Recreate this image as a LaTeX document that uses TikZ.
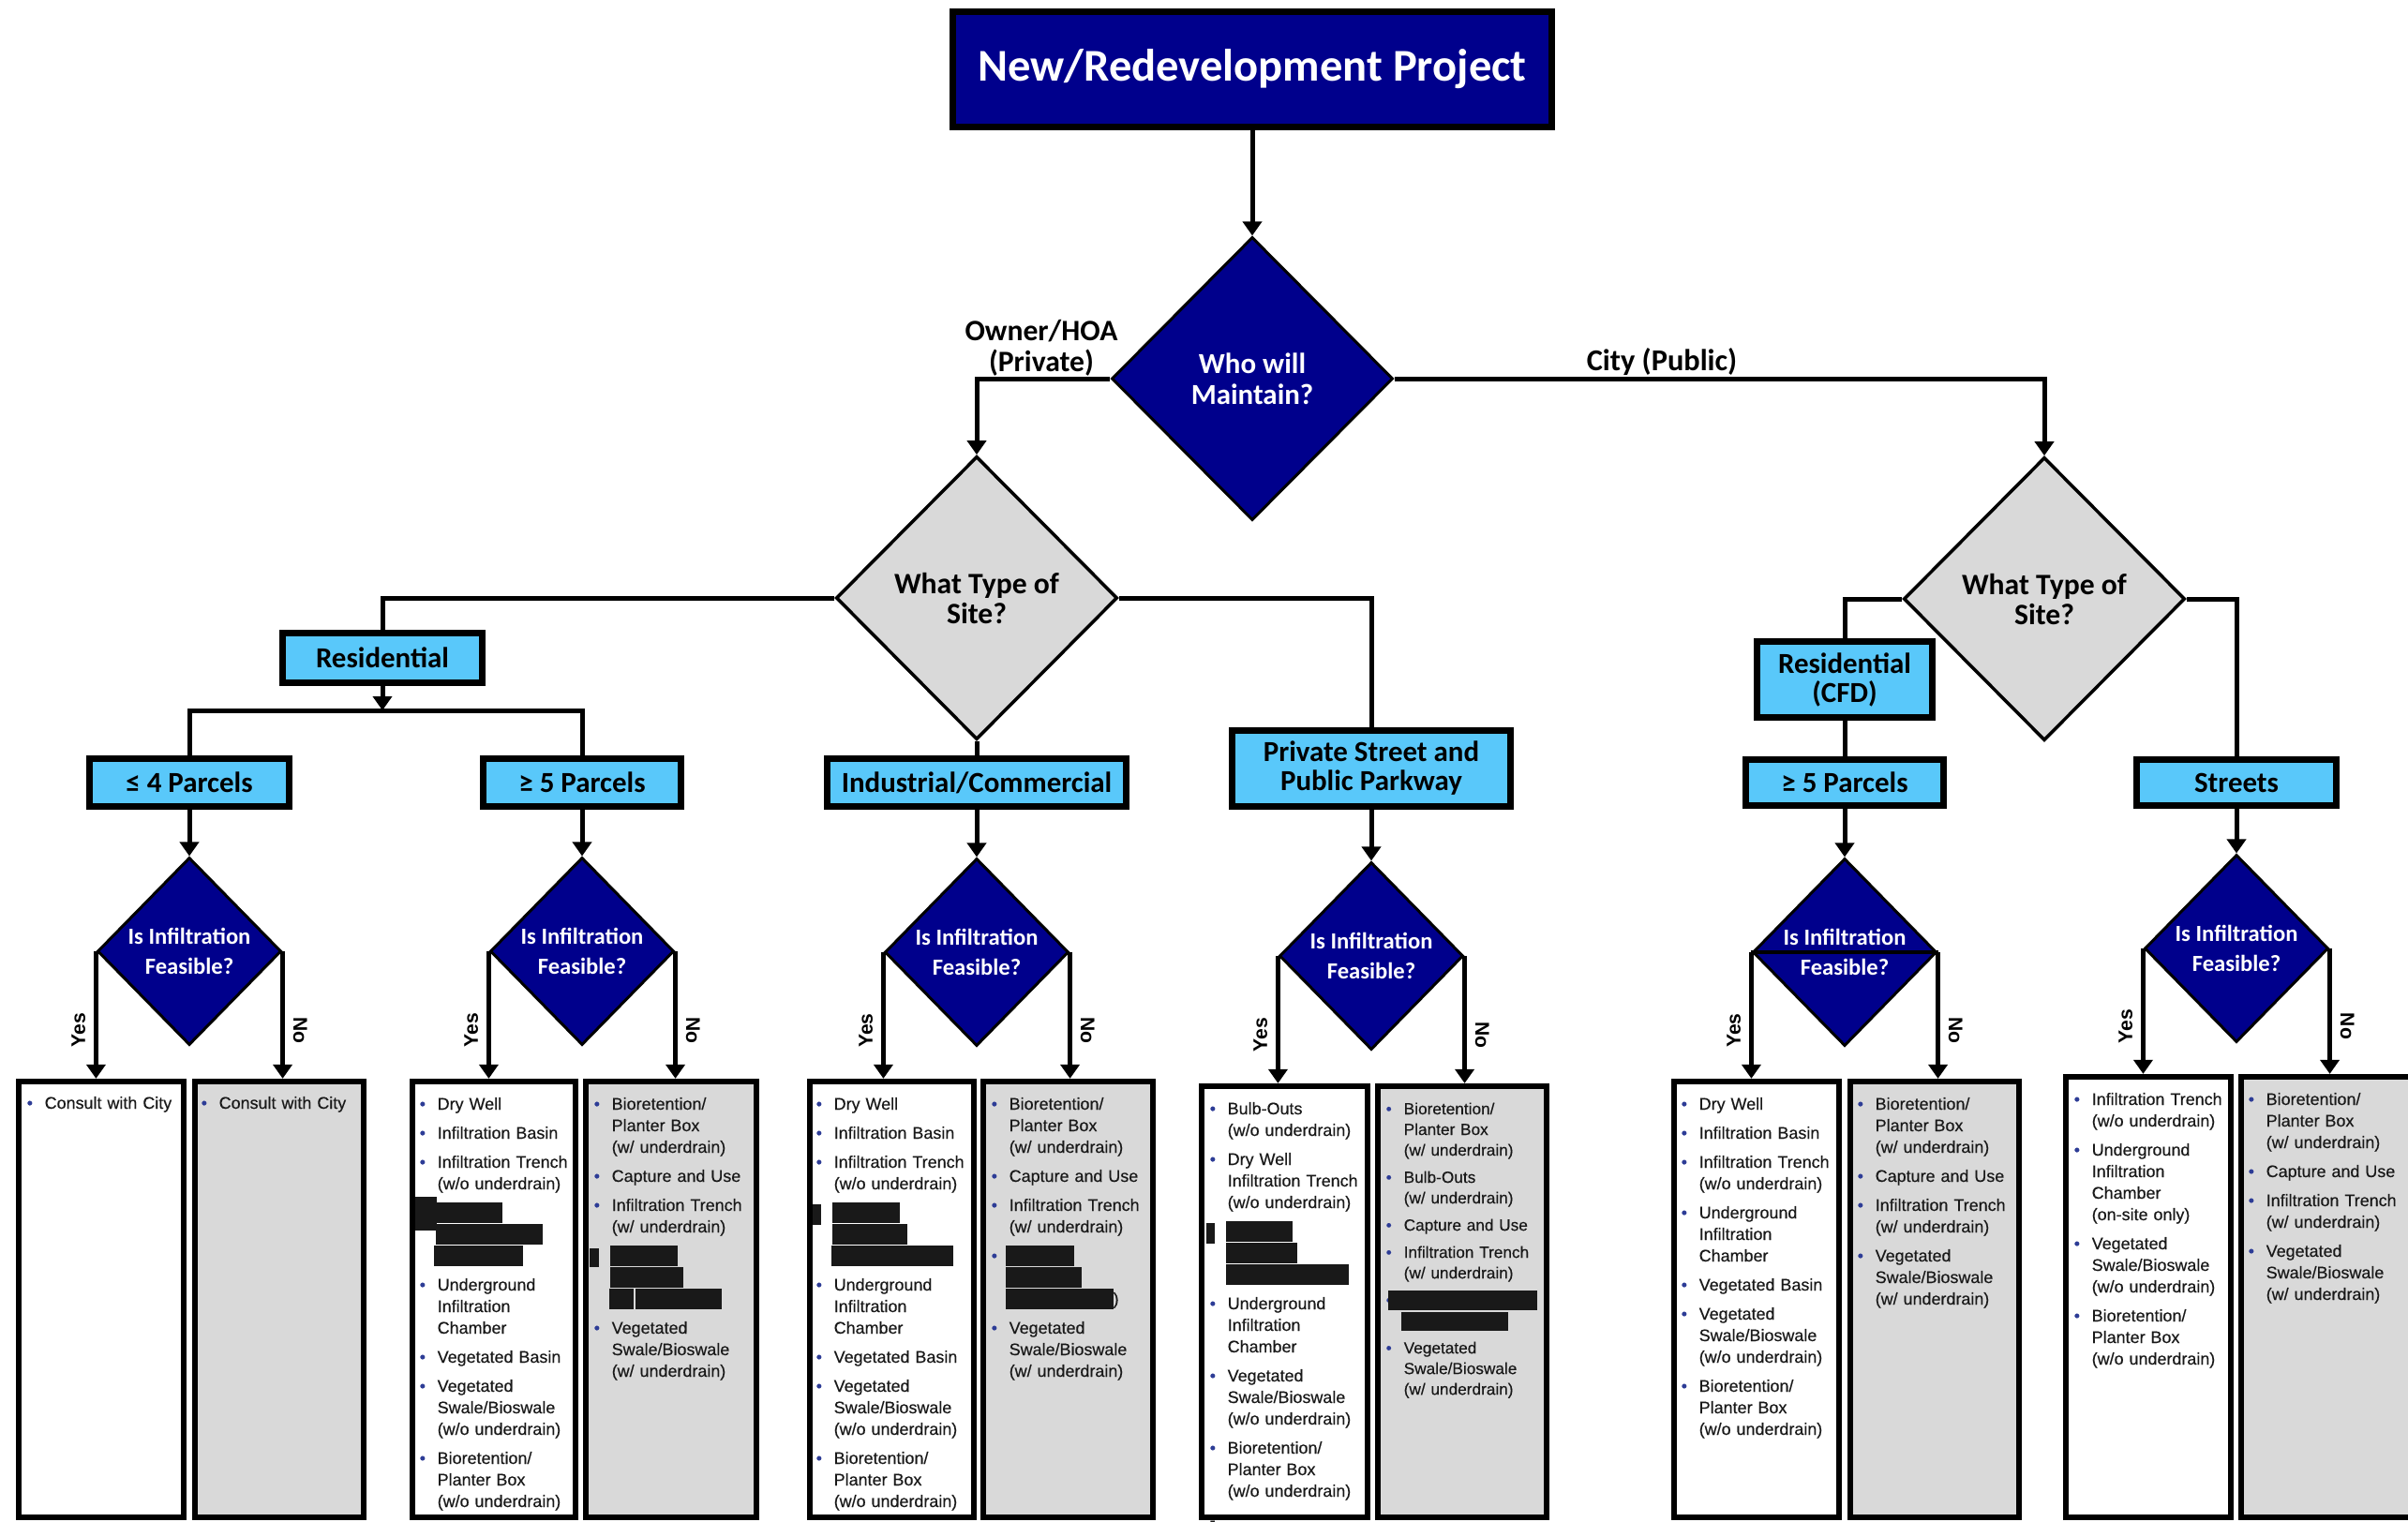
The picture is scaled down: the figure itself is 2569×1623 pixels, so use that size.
\documentclass[tikz,border=0pt]{standalone}
\usepackage{fontspec}
\setmainfont{Carlito}
\newfontfamily\arialf{Liberation Sans}
\newfontfamily\listf[FakeBold=0.35]{Liberation Sans}
\usetikzlibrary{shapes.geometric,arrows.meta}
\definecolor{navy}{RGB}{0,0,140}
\definecolor{lblue}{RGB}{89,200,250}
\definecolor{lgray}{RGB}{217,217,217}
\definecolor{bulc}{RGB}{45,60,150}
\definecolor{txtc}{RGB}{25,25,25}
\newdimen\px \px=0.01cm
\newcommand\bul{\llap{\makebox[19\px][l]{\textcolor{bulc}{\textbullet}}}}
\newcommand\fitm[1]{\noindent\bul#1}
\newcommand\itm[2][8]{\par\vspace{#1\px}\noindent\bul#2}
\newcommand\ritm[2][8]{\par\vspace{#1\px}\noindent#2}
\newcommand\rl[3][22]{\hspace*{#2\px}\rule[-5\px]{#3\px}{#1\px}}
\newcommand\blob[4]{\llap{\rule[#3\px]{#2\px}{#4\px}\hspace{#1\px}}}
\tikzset{
 conn/.style={line width=0.05cm},
 arr/.style={conn,-{Triangle[length=0.15cm,width=0.2cm]}},
 bluebox/.style={draw,fill=lblue,line width=0.07cm,inner sep=0,align=center,font=\bfseries\fontsize{8.8}{8.8}\selectfont},
 navydia/.style={diamond,draw,fill=navy,text=white,inner sep=0,line width=0.03cm,align=center},
 graydia/.style={diamond,draw,fill=lgray,inner sep=0,line width=0.035cm,align=center,font=\bfseries\fontsize{9}{9.1}\selectfont},
 infdia/.style={navydia,minimum width=1.96cm,minimum height=2cm,font=\bfseries\fontsize{7}{9}\selectfont},
 yesbox/.style={draw,fill=white,line width=0.06cm,inner sep=0},
 nobox/.style={yesbox,fill=lgray},
 blist/.style={anchor=base west,inner sep=0,text width=1.9cm,align=left,text=txtc,font=\listf\fontsize{5.1}{6.54}\selectfont},
 blistb/.style={blist,font=\listf\fontsize{4.9}{6.26}\selectfont},
 yeslab/.style={rotate=90,anchor=south,inner sep=2.5pt,font=\arialf\bfseries\fontsize{6}{6}\selectfont},
 nolab/.style={rotate=-90,anchor=south,inner sep=2.5pt,font=\arialf\bfseries\fontsize{6}{6}\selectfont},
}
\begin{document}
\normallineskiplimit=-50pt
\lineskiplimit=-50pt
\begin{tikzpicture}[x=0.01cm,y=-0.01cm]
\useasboundingbox (0,0) rectangle (2569,1623);
\clip (0,0) rectangle (2569,1623);
% top
\node[draw,fill=navy,line width=0.07cm,minimum width=6.39cm,minimum height=1.23cm,inner sep=0,text=white,font=\bfseries\fontsize{13.8}{14}\selectfont] (title) at (1336,74) {New/Redevelopment Project};
\node[navydia,minimum width=3cm,minimum height=3.02cm,font=\bfseries\fontsize{8.8}{9.3}\selectfont] (who) at (1336,404) {Who will\\Maintain?};
\node[align=center,inner sep=0,font=\bfseries\fontsize{9}{9.4}\selectfont] (owner) at (1111,371) {Owner/HOA\\(Private)};
\node[inner sep=0,font=\bfseries\fontsize{9.2}{9.4}\selectfont] (city) at (1773,386) {City (Public)};
\node[graydia,minimum width=3cm,minimum height=3.02cm] (sl) at (1042,638) {What Type of\\Site?};
\node[graydia,minimum width=3cm,minimum height=3.02cm] (sr) at (2181,639) {What Type of\\Site?};
% category boxes
\node[bluebox,minimum width=2.12cm,minimum height=0.53cm] (res) at (408,702) {Residential};
\node[bluebox,minimum width=2.12cm,minimum height=0.51cm] (le4) at (202,835) {≤ 4 Parcels};
\node[bluebox,minimum width=2.11cm,minimum height=0.51cm] (ge5) at (621,835) {≥ 5 Parcels};
\node[bluebox,minimum width=3.19cm,minimum height=0.51cm] (ind) at (1042,835) {Industrial/Commercial};
\node[bluebox,minimum width=2.96cm,minimum height=0.80cm] (priv) at (1463,820) {Private Street and\\Public Parkway};
\node[bluebox,minimum width=1.86cm,minimum height=0.80cm] (cfd) at (1968,725) {Residential\\(CFD)};
\node[bluebox,minimum width=2.10cm,minimum height=0.49cm] (ge5c) at (1968,835) {≥ 5 Parcels};
\node[bluebox,minimum width=2.12cm,minimum height=0.49cm] (str) at (2386,835) {Streets};
% infiltration diamonds
\node[infdia] (d1) at (202,1015) {Is Infiltration\\Feasible?};
\node[infdia] (d2) at (621,1015) {Is Infiltration\\Feasible?};
\node[infdia] (d3) at (1042,1016) {Is Infiltration\\Feasible?};
\node[infdia] (d4) at (1463,1020) {Is Infiltration\\Feasible?};
\node[infdia] (d5) at (1968,1016) {Is Infiltration\\Feasible?};
\node[infdia] (d6) at (2386,1012) {Is Infiltration\\Feasible?};
\draw[line width=0.04cm] (d5.west) -- (d5.east);
% result boxes
\node[yesbox,minimum width=1.76cm,minimum height=4.65cm] (y1) at (108,1386.5) {};
\node[nobox,minimum width=1.80cm,minimum height=4.65cm] (n1) at (298,1386.5) {};
\node[yesbox,minimum width=1.74cm,minimum height=4.65cm] (y2) at (527,1386.5) {};
\node[nobox,minimum width=1.82cm,minimum height=4.65cm] (n2) at (716,1386.5) {};
\node[yesbox,minimum width=1.75cm,minimum height=4.65cm] (y3) at (951.5,1386.5) {};
\node[nobox,minimum width=1.81cm,minimum height=4.65cm] (n3) at (1139.5,1386.5) {};
\node[yesbox,minimum width=1.77cm,minimum height=4.60cm] (y4) at (1370.5,1389) {};
\node[nobox,minimum width=1.80cm,minimum height=4.60cm] (n4) at (1560,1389) {};
\node[yesbox,minimum width=1.76cm,minimum height=4.65cm] (y5) at (1874,1386.5) {};
\node[nobox,minimum width=1.80cm,minimum height=4.65cm] (n5) at (2064,1386.5) {};
\node[yesbox,minimum width=1.76cm,minimum height=4.70cm] (y6) at (2292,1384) {};
\node[nobox,minimum width=1.99cm,minimum height=4.70cm] (n6) at (2490.5,1384) {};
% lists
\node[blist] (ty1) at (47,1183) {\fitm{Consult with City}};
\node[blist] (tn1) at (233,1183) {\fitm{Consult with City}};
\node[blist] (ty2) at (466,1184) {\fitm{Dry Well}\itm{Infiltration Basin}\itm{Infiltration Trench\\(w/o underdrain)}\ritm{\blob{1}{23}{-13}{36}\rl{-1}{70}\\\rl{-2}{114}\\\rl{-4}{95}}\itm{Underground\\Infiltration\\Chamber}\itm{Vegetated Basin}\itm{Vegetated\\Swale/Bioswale\\(w/o underdrain)}\itm{Bioretention/\\Planter Box\\(w/o underdrain)}};
\node[blist] (tn2) at (652,1184) {\fitm{Bioretention/\\Planter Box\\(w/ underdrain)}\itm{Capture and Use}\itm{Infiltration Trench\\(w/ underdrain)}\ritm{\blob{14}{10}{-6}{20}\rl{-2}{72}\\\rl{-2}{78}\\\rl{-3}{26}\rl{2}{92}}\itm{Vegetated\\Swale/Bioswale\\(w/ underdrain)}};
\node[blist] (ty3) at (889,1184) {\fitm{Dry Well}\itm{Infiltration Basin}\itm{Infiltration Trench\\(w/o underdrain)}\ritm{\blob{14}{9}{-7}{22}\rl{-2}{72}\\\rl{-2}{80}\\\rl{-3}{130}}\itm{Underground\\Infiltration\\Chamber}\itm{Vegetated Basin}\itm{Vegetated\\Swale/Bioswale\\(w/o underdrain)}\itm{Bioretention/\\Planter Box\\(w/o underdrain)}};
\node[blist] (tn3) at (1076,1184) {\fitm{Bioretention/\\Planter Box\\(w/ underdrain)}\itm{Capture and Use}\itm{Infiltration Trench\\(w/ underdrain)}\itm{\rl{-4}{73}\\\rl{-4}{81}\\\rl{-4}{115})}\itm{Vegetated\\Swale/Bioswale\\(w/ underdrain)}};
\node[blist] (ty4) at (1309,1189) {\fitm{Bulb-Outs\\(w/o underdrain)}\itm{Dry Well\\Infiltration Trench\\(w/o underdrain)}\ritm{\blob{14}{9}{-7}{22}\rl{-2}{71}\\\rl{-2}{76}\\\rl{-2}{131}}\itm{Underground\\Infiltration\\Chamber}\itm{Vegetated\\Swale/Bioswale\\(w/o underdrain)}\itm{Bioretention/\\Planter Box\\(w/o underdrain)}\ritm{\llap{\makebox[19\px][l]{-}}}};
\node[blistb] (tn4) at (1497,1189) {\fitm{Bioretention/\\Planter Box\\(w/ underdrain)}\itm[7]{Bulb-Outs\\(w/ underdrain)}\itm[7]{Capture and Use}\itm[7]{Infiltration Trench\\(w/ underdrain)}\itm[7]{\rl[21]{-17}{159}\\\rl[20]{-3}{114}}\itm[7]{Vegetated\\Swale/Bioswale\\(w/ underdrain)}};
\node[blist] (ty5) at (1812,1184) {\fitm{Dry Well}\itm{Infiltration Basin}\itm{Infiltration Trench\\(w/o underdrain)}\itm{Underground\\Infiltration\\Chamber}\itm{Vegetated Basin}\itm{Vegetated\\Swale/Bioswale\\(w/o underdrain)}\itm{Bioretention/\\Planter Box\\(w/o underdrain)}};
\node[blist] (tn5) at (2000,1184) {\fitm{Bioretention/\\Planter Box\\(w/ underdrain)}\itm{Capture and Use}\itm{Infiltration Trench\\(w/ underdrain)}\itm{Vegetated\\Swale/Bioswale\\(w/ underdrain)}};
\node[blist] (ty6) at (2231,1179) {\fitm{Infiltration Trench\\(w/o underdrain)}\itm{Underground\\Infiltration\\Chamber\\(on-site only)}\itm{Vegetated\\Swale/Bioswale\\(w/o underdrain)}\itm{Bioretention/\\Planter Box\\(w/o underdrain)}};
\node[blist] (tn6) at (2417,1179) {\fitm{Bioretention/\\Planter Box\\(w/ underdrain)}\itm{Capture and Use}\itm{Infiltration Trench\\(w/ underdrain)}\itm{Vegetated\\Swale/Bioswale\\(w/ underdrain)}};
% connectors
\draw[arr] (title.south) -- (who.north);
\draw[arr] (who.west) -| (sl.north);
\draw[arr] (who.east) -| (sr.north);
\draw[conn] (sl.west) -| (res.north);
\coordinate (rj) at (408,758);
\draw[arr] (res.south) -- (rj);
\draw[conn] (le4.north) |- (rj) -| (ge5.north);
\draw[conn] (sl.south) -- (ind.north);
\draw[conn] (sl.east) -| (priv.north);
\draw[conn] (sr.west) -| (cfd.north);
\draw[conn] (cfd.south) -- (ge5c.north);
\draw[conn] (sr.east) -| (str.north);
\foreach \bx/\dx in {le4/d1,ge5/d2,ind/d3,priv/d4,ge5c/d5,str/d6}
  \draw[arr] (\bx.south) -- (\dx.north);
\foreach \dx/\yb/\nb in {d1/y1/n1,d2/y2/n2,d3/y3/n3,d4/y4/n4,d5/y5/n5,d6/y6/n6}{
  \draw[arr] (\dx.west) -- node[pos=0.62,yeslab]{Yes} (\dx.west |- \yb.north);
  \draw[arr] (\dx.east) -- node[pos=0.62,nolab]{No} (\dx.east |- \nb.north);
}
\end{tikzpicture}
\end{document}
